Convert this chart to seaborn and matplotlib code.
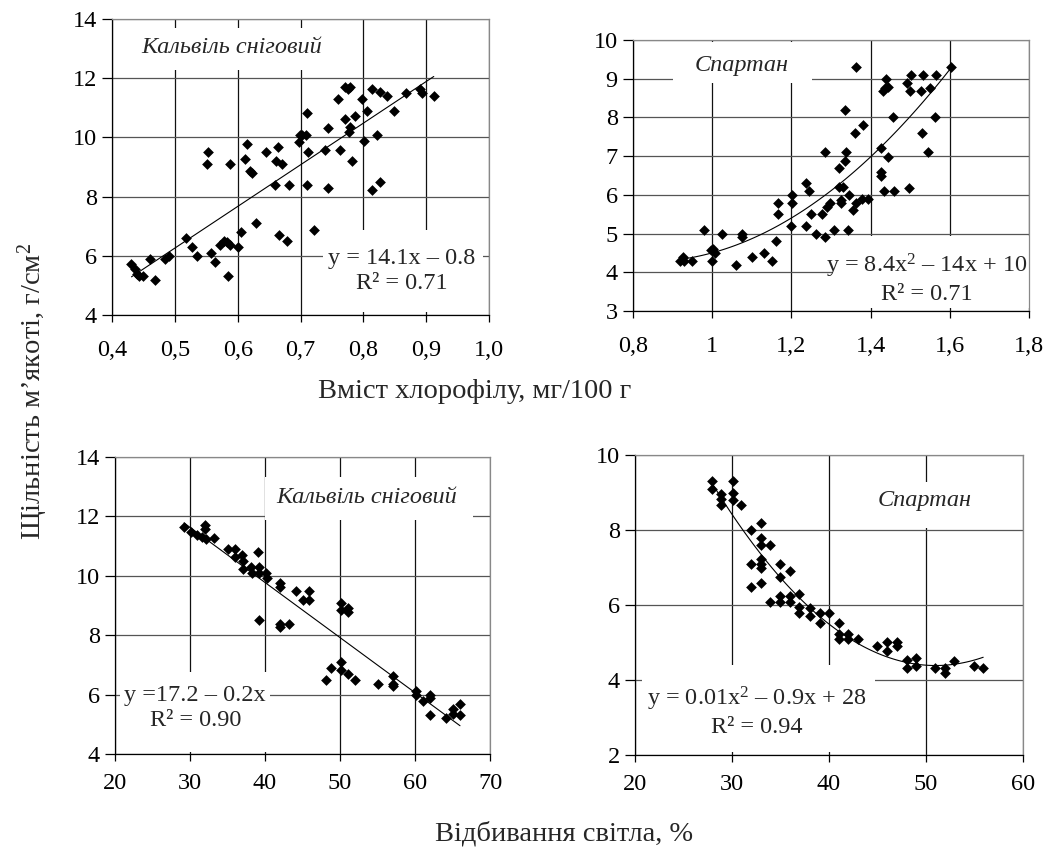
import matplotlib
matplotlib.use("Agg")
import matplotlib.pyplot as plt
import seaborn as sns
from matplotlib.patches import Rectangle

# Кальвіль сніговий: вміст хлорофілу -> щільність
kalv_chl_x = [0.431, 0.436, 0.44, 0.443, 0.45, 0.46, 0.468, 0.484, 0.49, 0.518, 0.528, 0.535,
              0.551, 0.553, 0.557, 0.564, 0.572, 0.578, 0.585, 0.587, 0.588, 0.583, 0.601, 0.606,
              0.611, 0.615, 0.619, 0.622, 0.629, 0.645, 0.66, 0.661, 0.664, 0.666, 0.67, 0.678,
              0.682, 0.697, 0.699, 0.702, 0.709, 0.71, 0.711, 0.712, 0.722, 0.739, 0.744, 0.744,
              0.76, 0.763, 0.77, 0.771, 0.775, 0.777, 0.778, 0.779, 0.782, 0.786, 0.798, 0.801,
              0.805, 0.814, 0.814, 0.822, 0.826, 0.826, 0.838, 0.848, 0.868, 0.89, 0.893, 0.912]
kalv_chl_y = [5.72, 5.57, 5.4, 5.31, 5.33, 5.9, 5.18, 5.9, 6.0, 6.59, 6.3, 6.0,
              9.1, 9.49, 6.11, 5.8, 6.38, 6.5, 5.31, 9.1, 6.36, 6.45, 6.29, 6.79,
              9.28, 9.79, 8.85, 8.79, 7.1, 9.49, 8.4, 9.2, 9.69, 6.69, 9.1, 6.5,
              8.4, 9.86, 10.09, 10.09, 10.09, 8.4, 10.82, 9.49, 6.87, 9.58, 10.32, 8.3,
              11.3, 9.58, 11.7, 10.62, 11.64, 10.17, 10.35, 11.7, 9.2, 10.73, 11.3, 9.89,
              10.9, 11.62, 8.23, 10.09, 8.5, 11.52, 11.39, 10.9, 11.5, 11.62, 11.5, 11.39]

# Спартан: вміст хлорофілу -> щільність
spart_chl_x = [0.918, 0.925, 0.929, 0.95, 0.979, 0.998, 1.0, 1.002, 1.008, 1.026, 1.061, 1.074,
               1.074, 1.101, 1.13, 1.151, 1.16, 1.165, 1.165, 1.2, 1.202, 1.202, 1.238, 1.238,
               1.245, 1.25, 1.261, 1.278, 1.284, 1.286, 1.29, 1.297, 1.307, 1.32, 1.32, 1.326,
               1.326, 1.33, 1.335, 1.336, 1.339, 1.343, 1.346, 1.356, 1.36, 1.362, 1.362, 1.377,
               1.381, 1.394, 1.425, 1.427, 1.427, 1.434, 1.432, 1.436, 1.438, 1.443, 1.444, 1.457,
               1.459, 1.492, 1.496, 1.499, 1.503, 1.527, 1.531, 1.533, 1.545, 1.551, 1.562, 1.566,
               1.604]
spart_chl_y = [4.3, 4.39, 4.3, 4.3, 5.09, 4.57, 4.3, 4.6, 4.5, 5.0, 4.19, 5.0,
               4.9, 4.39, 4.5, 4.3, 4.81, 5.5, 5.8, 5.19, 5.8, 6.0, 6.3, 5.19,
               6.1, 5.5, 5.0, 5.5, 7.1, 4.9, 5.69, 5.8, 5.09, 6.7, 6.21, 5.8,
               5.88, 6.21, 8.19, 6.88, 7.1, 5.09, 6.0, 5.6, 7.59, 9.29, 5.8, 5.89,
               7.8, 5.89, 7.2, 6.6, 6.49, 6.1, 8.69, 8.77, 8.99, 8.79, 6.98, 8.0,
               6.1, 8.9, 6.19, 8.69, 9.09, 8.69, 7.59, 9.09, 7.1, 8.77, 8.0, 9.09,
               9.29]

# Кальвіль сніговий: відбивання світла -> щільність
kalv_refl_x = [29.2, 30.1, 30.9, 31.6, 32.0, 32.0, 32.1, 33.2, 35.0, 36.0, 36.0, 36.9,
               37.0, 37.0, 38.1, 38.2, 39.1, 39.2, 39.2, 39.2, 40.1, 40.2, 42.0, 42.0,
               42.0, 42.0, 43.2, 44.1, 45.0, 45.8, 45.9, 48.8, 48.1, 50.1, 50.1, 50.1,
               50.1, 51.0, 51.0, 51.1, 52.0, 55.1, 57.0, 57.0, 57.0, 60.1, 60.1, 61.1,
               62.0, 62.0, 62.0, 64.1, 65.1, 65.1, 66.0, 66.0]
kalv_refl_y = [11.63, 11.48, 11.37, 11.31, 11.71, 11.56, 11.24, 11.26, 10.9, 10.9, 10.62, 10.7,
               10.5, 10.22, 10.3, 10.08, 10.79, 10.3, 8.5, 10.1, 10.1, 9.91, 9.76, 9.63,
               8.26, 8.39, 8.39, 9.49, 9.18, 9.49, 9.2, 6.91, 6.48, 9.1, 8.84, 7.1,
               6.82, 8.9, 8.79, 6.71, 6.48, 6.37, 6.63, 6.37, 6.28, 6.12, 6.0, 5.79,
               6.0, 5.89, 5.3, 5.21, 5.53, 5.36, 5.7, 5.3]

# Спартан: відбивання світла -> щільність
spart_refl_x = [27.9, 27.9, 28.9, 28.9, 28.9, 30.1, 30.1, 30.1, 30.9, 32.0, 32.0, 32.0,
                33.0, 33.0, 33.0, 33.0, 33.0, 33.0, 33.0, 33.9, 33.9, 34.9, 34.9, 34.9,
                34.9, 36.0, 36.0, 36.0, 36.9, 36.9, 36.9, 38.0, 38.0, 39.1, 39.1, 40.0,
                41.0, 41.0, 41.0, 42.0, 42.0, 43.0, 45.0, 46.0, 46.0, 47.0, 47.0, 48.0,
                48.0, 49.0, 49.0, 50.9, 52.0, 52.0, 52.9, 55.0, 55.9]
spart_refl_y = [9.32, 9.09, 8.96, 8.82, 8.68, 9.31, 9.0, 8.8, 8.68, 8.0, 7.09, 6.49,
                8.2, 7.8, 7.6, 7.24, 7.09, 6.98, 6.6, 7.6, 6.09, 7.09, 6.74, 6.24,
                6.09, 6.91, 6.24, 6.09, 6.29, 5.96, 5.78, 5.91, 5.72, 5.8, 5.53, 5.8,
                5.51, 5.22, 5.09, 5.22, 5.09, 5.09, 4.91, 5.02, 4.78, 5.02, 4.91, 4.53,
                4.31, 4.58, 4.37, 4.31, 4.33, 4.2, 4.51, 4.37, 4.31]

# осі
chl1_ticks = [0.4, 0.5, 0.6, 0.7, 0.8, 0.9, 1.0]
chl1_labels = ["0,4", "0,5", "0,6", "0,7", "0,8", "0,9", "1,0"]
chl2_ticks = [0.8, 1.0, 1.2, 1.4, 1.6, 1.8]
chl2_labels = ["0,8", "1", "1,2", "1,4", "1,6", "1,8"]
refl1_ticks = [20, 30, 40, 50, 60, 70]
refl2_ticks = [20, 30, 40, 50, 60]

TITLE_K = "Кальвіль сніговий"
TITLE_S = "Спартан"
EQ1 = "y = 14.1x – 0.8\nR² = 0.71"
EQ2 = "y = 8.4x$\\mathregular{^2}$ – 14x + 10\nR² = 0.71"
EQ3 = "y =17.2 – 0.2x\nR² = 0.90"
EQ4 = "y = 0.01x$\\mathregular{^2}$ – 0.9x + 28\nR² = 0.94"

FS = 17.5


def set_config():
    sns.set_theme(style="white")
    plt.rcParams["font.family"] = ["Liberation Serif", "DejaVu Serif"]
    plt.rcParams["mathtext.fontset"] = "custom"
    plt.rcParams["mathtext.rm"] = "Liberation Serif"
    plt.rcParams["mathtext.it"] = "Liberation Serif:italic"


def draw_panel(ax, x, y, order, xlim, ylim, xticks, xlabels, yticks, xpad,
               title, tbox, tpos, eq, ebox, epos):
    ax.set_xlim(*xlim)
    ax.set_ylim(*ylim)
    ax.set_axisbelow(True)
    ax.xaxis.grid(True, color="#111111", lw=0.9)
    ax.yaxis.grid(True, color="#555555", lw=0.9)

    sns.scatterplot(x=x, y=y, ax=ax, marker="D", s=30, color="black",
                    linewidth=0, zorder=3)
    sns.regplot(x=x, y=y, ax=ax, order=order, ci=None, scatter=False,
                line_kws=dict(color="black", lw=0.8, zorder=2))

    ax.set_xticks(xticks)
    ax.set_xticklabels(xlabels if xlabels else [str(t) for t in xticks])
    ax.set_yticks(yticks)
    ax.set_yticklabels([str(t) for t in yticks])
    ax.tick_params(axis="y", direction="out", length=7, width=0.9, pad=4,
                   labelsize=FS, colors="black", left=True)
    ax.tick_params(axis="x", direction="out", length=5, width=0.9, pad=xpad,
                   labelsize=FS, colors="black", bottom=True)
    ax.set_xlabel("")
    ax.set_ylabel("")

    for side in ["left", "bottom"]:
        ax.spines[side].set_color("black")
        ax.spines[side].set_linewidth(0.9)
    for side in ["top", "right"]:
        ax.spines[side].set_color("#888888")
        ax.spines[side].set_linewidth(0.9)

    # білі підкладки під підписи
    for (x0, y0, x1, y1) in [tbox, ebox]:
        ax.add_patch(Rectangle((x0, y0), x1 - x0, y1 - y0, transform=ax.transAxes,
                               facecolor="white", edgecolor="none", zorder=1))
    ax.text(tpos[0], tpos[1], title, transform=ax.transAxes, ha="center", va="center",
            fontsize=FS, style="italic", zorder=4)
    ax.text(epos[0], epos[1], eq, transform=ax.transAxes, ha="center", va="center",
            fontsize=FS, linespacing=1.25, zorder=4)


def main():
    set_config()
    fig = plt.figure(figsize=(10.43, 8.47), dpi=100)

    ax1 = fig.add_axes([0.1074, 0.6281, 0.3615, 0.3495])
    ax2 = fig.add_axes([0.6069, 0.6328, 0.3797, 0.3200])
    ax3 = fig.add_axes([0.1103, 0.1098, 0.3595, 0.3507])
    ax4 = fig.add_axes([0.6088, 0.1086, 0.3720, 0.3542])

    draw_panel(ax1, kalv_chl_x, kalv_chl_y, 1, (0.4, 1.0), (4, 14), chl1_ticks, chl1_labels,
               [4, 6, 8, 10, 12, 14], 13,
               TITLE_K, (0.061, 0.828, 0.592, 0.970), (0.318, 0.902),
               EQ1, (0.560, 0.010, 0.984, 0.287), (0.769, 0.150))
    draw_panel(ax2, spart_chl_x, spart_chl_y, 2, (0.8, 1.8), (3, 10), chl2_ticks, chl2_labels,
               [3, 4, 5, 6, 7, 8, 9, 10], 13,
               TITLE_S, (0.101, 0.841, 0.452, 0.993), (0.275, 0.904),
               EQ2, (0.505, 0.011, 1.0, 0.277), (0.742, 0.122))
    draw_panel(ax3, kalv_refl_x, kalv_refl_y, 1, (20, 70), (4, 14), refl1_ticks, None,
               [4, 6, 8, 10, 12, 14], 9,
               TITLE_K, (0.400, 0.788, 0.955, 0.933), (0.672, 0.865),
               EQ3, (0.013, 0.007, 0.413, 0.276), (0.214, 0.155))
    draw_panel(ax4, spart_refl_x, spart_refl_y, 2, (20, 60), (2, 10), refl2_ticks, None,
               [2, 4, 6, 8, 10], 9,
               TITLE_S, (0.567, 0.757, 0.928, 0.910), (0.747, 0.847),
               EQ4, (0.018, 0.010, 0.619, 0.300), (0.315, 0.145))

    fig.text(475 / 1043, 1 - 391 / 847, "Вміст хлорофілу, мг/100 г", ha="center",
             va="center", fontsize=20.5)
    fig.text(564 / 1043, 1 - 834 / 847, "Відбивання світла, %", ha="center",
             va="center", fontsize=20.5)
    fig.text(33 / 1043, 1 - 391 / 847, "Щільність м’якоті, г/см$\\mathregular{^2}$",
             ha="center", va="center", rotation=90, fontsize=20.5)

    fig.savefig("out.png", dpi=100)


if __name__ == "__main__":
    main()
